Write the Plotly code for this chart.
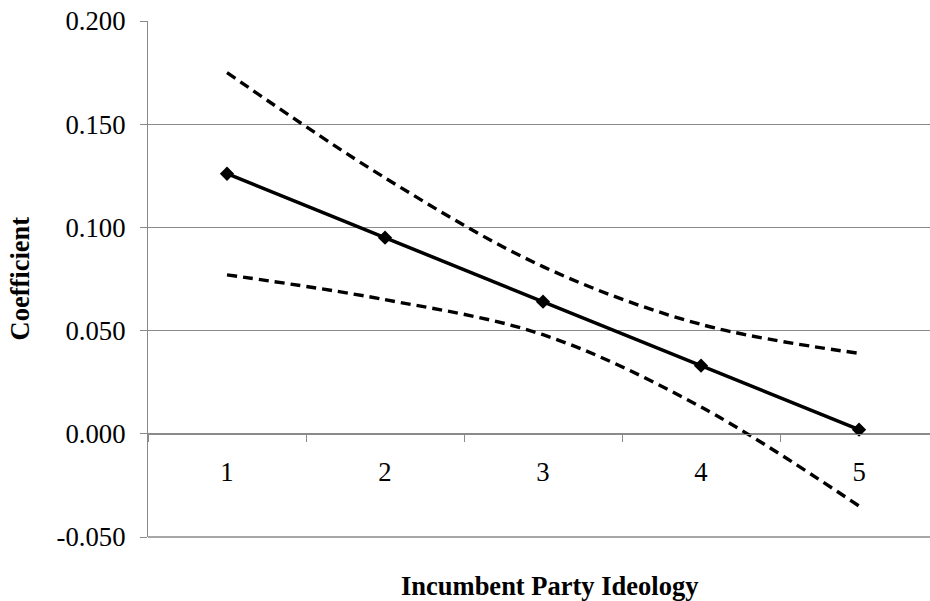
import plotly.graph_objects as go

categories = ["1", "2", "3", "4", "5"]
coefficient = [0.126, 0.095, 0.064, 0.033, 0.002]
upper_bound = [0.175, 0.124, 0.081, 0.053, 0.039]
lower_bound = [0.077, 0.065, 0.048, 0.013, -0.035]
y_ticks = [-0.05, 0.0, 0.05, 0.10, 0.15, 0.20]
y_tick_text = [f"{v:.3f}" for v in y_ticks]

FONT = "Liberation Serif, Times New Roman, serif"
GRID = "#8a8a8a"

fig = go.Figure()
for vals in (upper_bound, lower_bound):
    fig.add_trace(go.Scatter(
        x=categories, y=vals, mode="lines",
        line=dict(color="black", width=3.4, dash="10px,6px", shape="spline", smoothing=1.0),
        hoverinfo="skip", showlegend=False,
    ))
fig.add_trace(go.Scatter(
    x=categories, y=coefficient, mode="lines+markers",
    line=dict(color="black", width=3.5),
    marker=dict(symbol="diamond", size=11, color="black"),
    showlegend=False,
))

fig.update_layout(
    width=930, height=601,
    margin=dict(l=148, r=0, t=20.5, b=64.3),
    paper_bgcolor="white", plot_bgcolor="white",
    font=dict(family=FONT, size=26.7, color="black"),
    showlegend=False,
    xaxis=dict(
        type="category", range=[-0.5, 4.449],
        anchor="free", position=0.2,
        showline=True, linecolor=GRID, linewidth=1.3,
        ticks="outside", ticklen=7, tickcolor=GRID, tickwidth=1.3,
        tickson="boundaries", showgrid=False, zeroline=False,
        ticklabelstandoff=14,
        tickfont=dict(family=FONT, size=26.7, color="black"),
    ),
    yaxis=dict(
        range=[-0.05, 0.2], tickvals=y_ticks, ticktext=y_tick_text,
        showline=True, linecolor=GRID, linewidth=1.3,
        ticks="outside", ticklen=7, tickcolor=GRID, tickwidth=1.3,
        showgrid=True, gridcolor=GRID, gridwidth=1.3, zeroline=False,
        ticklabelstandoff=9,
        tickfont=dict(family=FONT, size=26.7, color="black"),
    ),
    shapes=[
        dict(type="line", xref="paper", yref="paper", x0=0, x1=1,
             y0=0, y1=0, line=dict(color=GRID, width=1.3), layer="above"),
    ],
    annotations=[
        dict(text="<b>Incumbent Party Ideology</b>", xref="paper", yref="paper",
             x=0.514, y=-0.0955, xanchor="center", yanchor="middle", showarrow=False,
             font=dict(family=FONT, size=26.5, color="black")),
        dict(text="<b>Coefficient</b>", xref="paper", yref="paper",
             x=-0.1637, y=0.501, xanchor="center", yanchor="middle", showarrow=False,
             textangle=-90, font=dict(family=FONT, size=26.5, color="black")),
    ],
)

fig.write_html("out.html")
